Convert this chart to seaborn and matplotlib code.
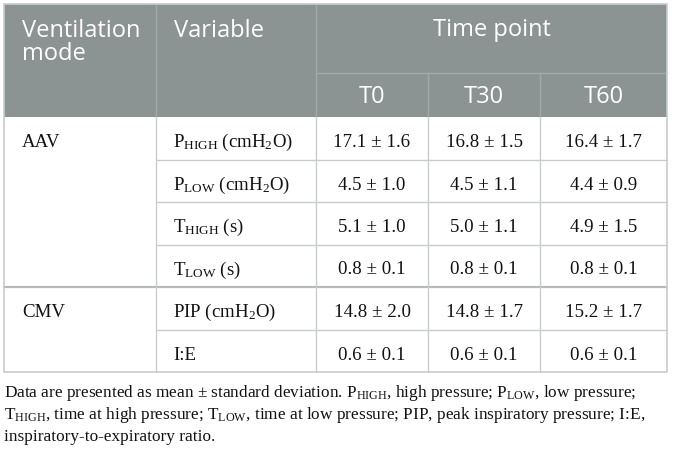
import matplotlib
matplotlib.use("Agg")
import matplotlib.pyplot as plt
import seaborn as sns
from matplotlib.patches import Rectangle

# ---------------- data ----------------
modes = ["AAV", "CMV"]
mode_rows = [0, 4]
variables = [r"P$_{\mathrm{HIGH}}$ (cmH$_{2}$O)", r"P$_{\mathrm{LOW}}$ (cmH$_{2}$O)",
             r"T$_{\mathrm{HIGH}}$ (s)", r"T$_{\mathrm{LOW}}$ (s)",
             r"PIP (cmH$_{2}$O)", "I:E"]
time_points = ["T0", "T30", "T60"]
means = [[17.1, 16.8, 16.4],
         [4.5, 4.5, 4.4],
         [5.1, 5.0, 4.9],
         [0.8, 0.8, 0.8],
         [14.8, 14.8, 15.2],
         [0.6, 0.6, 0.6]]
sds = [[1.6, 1.5, 1.7],
       [1.0, 1.1, 0.9],
       [1.0, 1.1, 1.5],
       [0.1, 0.1, 0.1],
       [2.0, 1.7, 1.7],
       [0.1, 0.1, 0.1]]
header_mode = ["Ventilation", "mode"]
header_var = "Variable"
header_time = "Time point"
footnote = [
    r"Data are presented as mean ± standard deviation. P$_{\mathrm{HIGH}}$, high pressure; P$_{\mathrm{LOW}}$, low pressure;",
    r"T$_{\mathrm{HIGH}}$, time at high pressure; T$_{\mathrm{LOW}}$, time at low pressure; PIP, peak inspiratory pressure; I:E,",
    "inspiratory-to-expiratory ratio.",
]

# ---------------- style ----------------
sns.set_theme(style="white")
plt.rcParams["mathtext.fontset"] = "custom"
plt.rcParams["mathtext.rm"] = "Liberation Serif"
plt.rcParams["mathtext.it"] = "Liberation Serif:italic"
plt.rcParams["mathtext.bf"] = "Liberation Serif:bold"

W, H = 673, 455
fig = plt.figure(figsize=(W / 100, H / 100), dpi=100)
ax = fig.add_axes([0, 0, 1, 1])
ax.set_xlim(0, W)
ax.set_ylim(H, 0)
ax.axis("off")

HEAD_BG = "#8c9393"
LINE = "#c9cccc"
HEAD_LINE = "#a3a9a9"
SANS = "Open Sans"
SERIF = "Liberation Serif"
TXT = "#111111"

col_x = [4, 156, 316, 428, 540, 667]
head_top, head_mid, head_bot = 4, 73, 117
row_h = 42.5
row_y = [head_bot + i * row_h for i in range(len(variables) + 1)]

# header background
ax.add_patch(Rectangle((col_x[0], head_top), col_x[-1] - col_x[0], head_bot - head_top,
                       facecolor=HEAD_BG, edgecolor="none", zorder=1))
# header internal lines
for x in col_x[1:3]:
    ax.plot([x, x], [head_top, head_bot], color=HEAD_LINE, lw=1.0, zorder=2)
for x in col_x[3:5]:
    ax.plot([x, x], [head_mid, head_bot], color=HEAD_LINE, lw=1.0, zorder=2)
ax.plot([col_x[2], col_x[-1]], [head_mid, head_mid], color=HEAD_LINE, lw=1.0, zorder=2)

# body lines
for i, y in enumerate(row_y[1:-1], start=1):
    if i in mode_rows:
        ax.plot([col_x[0], col_x[-1]], [y, y], color="#b5b9b9", lw=1.6, zorder=2)
    else:
        ax.plot([col_x[1], col_x[-1]], [y, y], color=LINE, lw=1.0, zorder=2)
for x in col_x[1:-1]:
    ax.plot([x, x], [head_bot, row_y[-1]], color=LINE, lw=1.0, zorder=2)
# outer border
ax.add_patch(Rectangle((col_x[0], head_top), col_x[-1] - col_x[0], row_y[-1] - head_top,
                       facecolor="none", edgecolor=LINE, lw=1.2, zorder=3))

# header text
hfs = 17
for k, line in enumerate(header_mode):
    ax.text(22, 37 + k * 22.5, line, color="white", fontsize=hfs, family=SANS,
            ha="left", va="baseline", zorder=4)
ax.text(174, 37, header_var, color="white", fontsize=hfs, family=SANS,
        ha="left", va="baseline", zorder=4)
ax.text((col_x[2] + col_x[-1]) / 2, 36, header_time, color="white", fontsize=hfs,
        family=SANS, ha="center", va="baseline", zorder=4)
for j, tp in enumerate(time_points):
    ax.text((col_x[2 + j] + col_x[3 + j]) / 2, 103, tp, color="white", fontsize=hfs,
            family=SANS, ha="center", va="baseline", zorder=4)

# body text
bfs = 13.6
for m, r in zip(modes, mode_rows):
    ax.text(22, row_y[r] + 30, m, color=TXT, fontsize=bfs, family=SERIF,
            ha="left", va="baseline", zorder=4)
for i, v in enumerate(variables):
    yb = row_y[i] + 30
    ax.text(173, yb, v, color=TXT, fontsize=bfs, family=SERIF,
            ha="left", va="baseline", zorder=4)
    for j in range(len(time_points)):
        ax.text((col_x[2 + j] + col_x[3 + j]) / 2, yb, f"{means[i][j]:.1f} ± {sds[i][j]:.1f}",
                color=TXT, fontsize=bfs, family=SERIF, ha="center", va="baseline", zorder=4)

# footnote
for k, line in enumerate(footnote):
    ax.text(4, 397 + k * 22, line, color=TXT, fontsize=12.4, family=SERIF,
            ha="left", va="baseline", zorder=4)

fig.savefig("out.png", dpi=100, facecolor="white")
